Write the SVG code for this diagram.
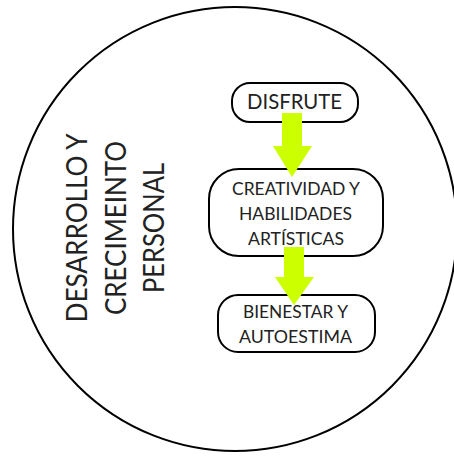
<svg xmlns="http://www.w3.org/2000/svg" width="454" height="456" viewBox="0 0 454 456">
<style>
.box{fill:#fff;stroke:#000;stroke-width:2}
.t{font-family:Lato,"Liberation Sans",sans-serif;fill:#222;text-anchor:middle}
.arr{fill:#ccff00}
</style>
<rect width="454" height="456" fill="#fff"/>
<g id="outer">
<ellipse cx="235" cy="229" rx="222" ry="222" fill="#fff" stroke="#000" stroke-width="2"/>
<text class="t" font-size="28" transform="translate(87,228) rotate(-90)" x="0" y="0" textLength="189" lengthAdjust="spacingAndGlyphs">DESARROLLO Y</text>
<text class="t" font-size="28" transform="translate(126,228) rotate(-90)" x="0" y="0" textLength="174" lengthAdjust="spacingAndGlyphs">CRECIMEINTO</text>
<text class="t" font-size="28" transform="translate(164,228) rotate(-90)" x="0" y="0" textLength="130" lengthAdjust="spacingAndGlyphs">PERSONAL</text>
</g>
<g id="disfrute">
<rect class="box" x="232" y="83" width="126" height="39" rx="18"/>
<text class="t" font-size="21" x="294.5" y="109" textLength="95" lengthAdjust="spacingAndGlyphs">DISFRUTE</text>
</g>
<g id="creatividad">
<rect class="box" x="209" y="169" width="174" height="87" rx="30"/>
<text class="t" font-size="18" x="296" y="195" textLength="128" lengthAdjust="spacingAndGlyphs">CREATIVIDAD Y</text>
<text class="t" font-size="18" x="295.5" y="220" textLength="113" lengthAdjust="spacingAndGlyphs">HABILIDADES</text>
<text class="t" font-size="18" x="296" y="245" textLength="96" lengthAdjust="spacingAndGlyphs">ARTÍSTICAS</text>
</g>
<g id="bienestar">
<rect class="box" x="218" y="295" width="157" height="57" rx="20"/>
<text class="t" font-size="18" x="295.5" y="318" textLength="105" lengthAdjust="spacingAndGlyphs">BIENESTAR Y</text>
<text class="t" font-size="18" x="295.5" y="343" textLength="113" lengthAdjust="spacingAndGlyphs">AUTOESTIMA</text>
</g>
<g id="connectors">
<polygon class="arr" points="282,113 302,113 302,146 312,146 292,177 273,146 282,146"/>
<polygon class="arr" points="284,247 304,247 304,277 314,277 294,305 275,277 284,277"/>
</g>
</svg>
